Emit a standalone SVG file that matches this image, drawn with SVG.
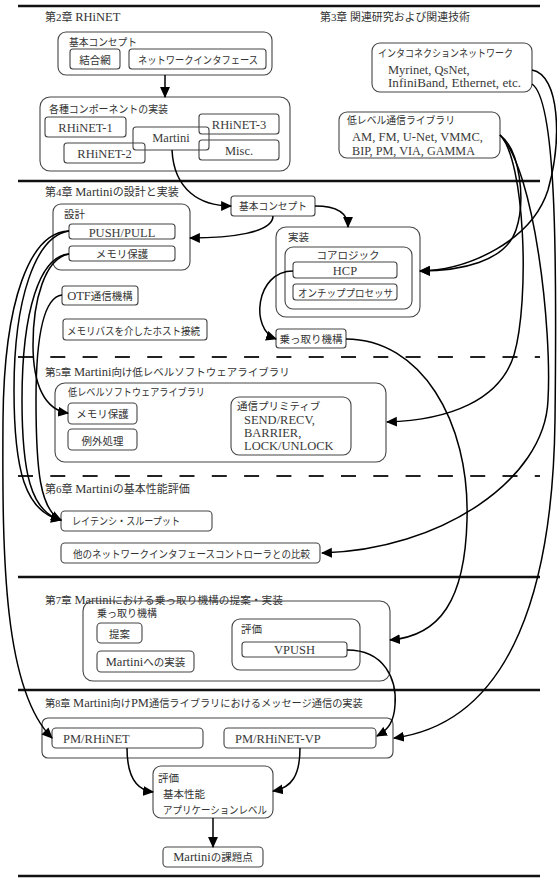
<svg xmlns="http://www.w3.org/2000/svg" width="557" height="881" viewBox="0 0 557 881">
  <style>
    text { font-family: "Liberation Serif", "Noto Sans CJK JP", serif; fill: #333; }
    .ch { font-size: 11px; }
    .jp { font-size: 10.5px; }
    .en { font-size: 12.5px; fill: #3a3a3a; }
    .lat { font-size: 12.5px; }
    .c { text-anchor: middle; }
    .box { fill: none; stroke: #444; stroke-width: 1.1; }
    .rule { stroke: #111; stroke-width: 2.6; }
    .dash { stroke: #222; stroke-width: 2; stroke-dasharray: 15 17.3; }
    .link { fill: none; stroke: #000; stroke-width: 1.5; marker-end: url(#ah); }
  </style>
  <defs>
    <marker id="ah" viewBox="0 0 10 10" refX="9" refY="5" markerWidth="11" markerHeight="11" markerUnits="userSpaceOnUse" orient="auto">
      <path d="M0,0.5 L10,5 L0,9.5 z" fill="#000"/>
    </marker>
  </defs>
  <rect width="557" height="881" fill="#fff"/>

  <!-- chapter separators -->
  <g id="rules">
    <line class="rule" x1="18" y1="6" x2="540" y2="6"/>
    <line class="rule" x1="18" y1="181" x2="540" y2="181"/>
    <line class="dash" x1="18" y1="357" x2="540" y2="357"/>
    <line class="dash" x1="18" y1="476" x2="540" y2="476"/>
    <line class="rule" x1="18" y1="577" x2="540" y2="577"/>
    <line class="rule" x1="18" y1="690" x2="540" y2="690"/>
    <line class="rule" x1="18" y1="876" x2="540" y2="876" stroke-width="3"/>
  </g>

  <!-- chapter titles -->
  <g id="titles">
    <text class="ch" x="45" y="21">第2章 <tspan class="lat">RHiNET</tspan></text>
    <text class="ch" x="320" y="21" textLength="150" lengthAdjust="spacingAndGlyphs">第3章 関連研究および関連技術</text>
    <text class="ch" x="45" y="196">第4章 <tspan class="lat">Martini</tspan>の設計と実装</text>
    <text class="ch" x="45" y="376" style="font-size:10.5px">第5章 <tspan class="lat">Martini</tspan>向け低レベルソフトウェアライブラリ</text>
    <text class="ch" x="45" y="493">第6章 <tspan class="lat">Martini</tspan>の基本性能評価</text>
    <text class="ch" x="45" y="604" style="font-size:10.7px">第7章 <tspan class="lat">Martini</tspan>における乗っ取り機構の提案・実装</text>
    <text class="ch" x="45" y="707" style="font-size:10.2px">第8章 <tspan class="lat">Martini</tspan>向け<tspan class="lat">PM</tspan>通信ライブラリにおけるメッセージ通信の実装</text>
  </g>

  <!-- chapter 2 -->
  <g id="rhinet-concept">
    <rect class="box" x="58" y="32" width="214" height="43" rx="8"/>
    <text class="jp" x="69" y="46" textLength="68" lengthAdjust="spacingAndGlyphs">基本コンセプト</text>
  </g>
  <g id="interconnect">
    <rect class="box" x="70" y="49" width="50" height="20" rx="3"/>
    <text class="jp c" x="95" y="64">結合網</text>
  </g>
  <g id="network-interface">
    <rect class="box" x="129" y="49" width="137" height="20" rx="3"/>
    <text class="jp" x="138" y="64" textLength="120" lengthAdjust="spacingAndGlyphs">ネットワークインタフェース</text>
  </g>
  <g id="components">
    <rect class="box" x="40" y="97" width="250" height="74" rx="10"/>
    <text class="jp" x="49" y="113" textLength="119" lengthAdjust="spacingAndGlyphs">各種コンポーネントの実装</text>
  </g>
  <g id="rhinet-1">
    <rect class="box" x="45" y="117" width="81" height="20" rx="3"/>
    <text class="en c" x="85.5" y="132">RHiNET-1</text>
  </g>
  <g id="rhinet-2">
    <rect class="box" x="64" y="143" width="81" height="20" rx="3"/>
    <text class="en c" x="104.5" y="158">RHiNET-2</text>
  </g>
  <g id="rhinet-3">
    <rect class="box" x="199" y="114" width="80" height="20" rx="3"/>
    <text class="en c" x="239" y="129">RHiNET-3</text>
  </g>
  <g id="misc">
    <rect class="box" x="199" y="140" width="80" height="20" rx="3"/>
    <text class="en c" x="239" y="155">Misc.</text>
  </g>
  <g id="martini">
    <rect class="box" x="133" y="127" width="76" height="23" rx="3"/>
    <text class="en c" x="171" y="142">Martini</text>
  </g>

  <!-- chapter 3 -->
  <g id="networks">
    <rect class="box" x="372" y="43" width="160" height="49" rx="8"/>
    <text class="jp" x="378" y="57" textLength="135" lengthAdjust="spacingAndGlyphs">インタコネクションネットワーク</text>
    <text class="en" x="388" y="74">Myrinet, QsNet,</text>
    <text class="en" x="388" y="87" textLength="133" lengthAdjust="spacingAndGlyphs">InfiniBand, Ethernet, etc.</text>
  </g>
  <g id="comm-libs">
    <rect class="box" x="339" y="112" width="161" height="46" rx="8"/>
    <text class="jp" x="347" y="124" textLength="108" lengthAdjust="spacingAndGlyphs">低レベル通信ライブラリ</text>
    <text class="en" x="352" y="141" textLength="131" lengthAdjust="spacingAndGlyphs">AM, FM, U-Net, VMMC,</text>
    <text class="en" x="352" y="155" textLength="123" lengthAdjust="spacingAndGlyphs">BIP, PM, VIA, GAMMA</text>
  </g>

  <!-- chapter 4 -->
  <g id="martini-concept">
    <rect class="box" x="231" y="196" width="84" height="20" rx="3"/>
    <text class="jp c" x="273" y="210" textLength="68" lengthAdjust="spacingAndGlyphs">基本コンセプト</text>
  </g>
  <g id="design">
    <rect class="box" x="53" y="204" width="137" height="66" rx="8"/>
    <text class="jp" x="64" y="218">設計</text>
  </g>
  <g id="push-pull">
    <rect class="box" x="69" y="224" width="106" height="15" rx="3"/>
    <text class="en c" x="122" y="236.5">PUSH/PULL</text>
  </g>
  <g id="mem-protect-design">
    <rect class="box" x="69" y="246" width="106" height="15" rx="3"/>
    <text class="jp c" x="122" y="258">メモリ保護</text>
  </g>
  <g id="otf">
    <rect class="box" x="62" y="286" width="76" height="19" rx="3"/>
    <text class="jp c" x="100" y="300"><tspan class="lat">OTF</tspan>通信機構</text>
  </g>
  <g id="host-link">
    <rect class="box" x="63" y="319" width="144" height="21" rx="3"/>
    <text class="jp" x="67" y="335" textLength="133" lengthAdjust="spacingAndGlyphs">メモリバスを介したホスト接続</text>
  </g>
  <g id="impl">
    <rect class="box" x="276" y="227" width="144" height="90" rx="10"/>
    <text class="jp" x="288" y="241">実装</text>
  </g>
  <g id="core-logic">
    <rect class="box" x="285" y="247" width="127" height="62" rx="8"/>
    <text class="jp c" x="348" y="259">コアロジック</text>
  </g>
  <g id="hcp">
    <rect class="box" x="293" y="262" width="104" height="16" rx="3"/>
    <text class="en c" x="345" y="275">HCP</text>
  </g>
  <g id="onchip">
    <rect class="box" x="293" y="284" width="104" height="16" rx="3"/>
    <text class="jp" x="298" y="297" textLength="95" lengthAdjust="spacingAndGlyphs">オンチッププロセッサ</text>
  </g>
  <g id="takeover">
    <rect class="box" x="276" y="329" width="70" height="19" rx="3"/>
    <text class="jp c" x="311" y="343">乗っ取り機構</text>
  </g>

  <!-- chapter 5 -->
  <g id="sw-lib">
    <rect class="box" x="55" y="383" width="331" height="79" rx="10"/>
    <text class="jp" x="68" y="396" textLength="137" lengthAdjust="spacingAndGlyphs">低レベルソフトウェアライブラリ</text>
  </g>
  <g id="mem-protect-lib">
    <rect class="box" x="68" y="403" width="69" height="21" rx="4"/>
    <text class="jp c" x="102.5" y="418">メモリ保護</text>
  </g>
  <g id="exceptions">
    <rect class="box" x="68" y="429" width="69" height="21" rx="4"/>
    <text class="jp c" x="102.5" y="445">例外処理</text>
  </g>
  <g id="primitives">
    <rect class="box" x="231" y="397" width="120" height="58" rx="8"/>
    <text class="jp" x="237" y="410">通信プリミティブ</text>
    <text class="en" x="244" y="424">SEND/RECV,</text>
    <text class="en" x="244" y="437">BARRIER,</text>
    <text class="en" x="244" y="450">LOCK/UNLOCK</text>
  </g>

  <!-- chapter 6 -->
  <g id="latency">
    <rect class="box" x="61" y="511" width="151" height="20" rx="4"/>
    <text class="jp" x="72" y="525" textLength="108" lengthAdjust="spacingAndGlyphs">レイテンシ・スループット</text>
  </g>
  <g id="comparison">
    <rect class="box" x="61" y="543" width="259" height="20" rx="4"/>
    <text class="jp" x="73" y="558" textLength="237" lengthAdjust="spacingAndGlyphs">他のネットワークインタフェースコントローラとの比較</text>
  </g>

  <!-- chapter 7 -->
  <g id="takeover-study">
    <rect class="box" x="83" y="601" width="307" height="80" rx="10"/>
    <text class="jp" x="97" y="617" textLength="60" lengthAdjust="spacingAndGlyphs">乗っ取り機構</text>
  </g>
  <g id="proposal">
    <rect class="box" x="97" y="623" width="45" height="20" rx="4"/>
    <text class="jp c" x="119.5" y="638">提案</text>
  </g>
  <g id="martini-impl">
    <rect class="box" x="97" y="651" width="97" height="21" rx="4"/>
    <text class="jp c" x="145.5" y="666"><tspan class="lat">Martini</tspan>への実装</text>
  </g>
  <g id="takeover-eval">
    <rect class="box" x="232" y="619" width="128" height="51" rx="8"/>
    <text class="jp" x="241" y="633">評価</text>
  </g>
  <g id="vpush">
    <rect class="box" x="242" y="642" width="105" height="15" rx="3"/>
    <text class="en c" x="294.5" y="654">VPUSH</text>
  </g>

  <!-- chapter 8 -->
  <g id="pm-libs">
    <rect class="box" x="42" y="718" width="351" height="40" rx="6"/>
  </g>
  <g id="pm-rhinet">
    <rect class="box" x="52" y="728" width="151" height="20" rx="4"/>
    <text class="en" x="63" y="743">PM/RHiNET</text>
  </g>
  <g id="pm-rhinet-vp">
    <rect class="box" x="224" y="728" width="152" height="20" rx="4"/>
    <text class="en" x="235" y="743">PM/RHiNET-VP</text>
  </g>
  <g id="pm-eval">
    <rect class="box" x="153" y="766" width="120" height="52" rx="8"/>
    <text class="jp" x="158" y="782">評価</text>
    <text class="jp" x="163" y="798">基本性能</text>
    <text class="jp" x="163" y="814" textLength="104" lengthAdjust="spacingAndGlyphs">アプリケーションレベル</text>
  </g>
  <g id="issues">
    <rect class="box" x="163" y="847" width="100" height="20" rx="4"/>
    <text class="jp c" x="213" y="861"><tspan class="lat">Martini</tspan>の課題点</text>
  </g>

  <!-- connectors -->
  <g id="connectors">
    <path class="link" d="M165,75 L165,97"/>
    <path class="link" d="M172,150 C174,190 200,206 231,206"/>
    <path class="link" d="M315,206 C336,206 348,212 348,227"/>
    <path class="link" d="M273,216 C273,233 230,238 190,238"/>
    <path class="link" d="M293,271 C255,271 250,330 276,339"/>
    <path class="link" d="M346,339 C420,339 470,420 467,520 C465,600 440,636 390,640"/>
    <path class="link" d="M532,70 C560,75 562,140 548,190 C532,240 470,270 420,271"/>
    <path class="link" d="M532,84 C556,100 557,250 555,420 C553,580 515,722 394,738"/>
    <path class="link" d="M500,135 C520,150 526,200 516,230 C505,262 460,271 420,271"/>
    <path class="link" d="M500,135 C525,160 530,300 514,355 C500,400 450,420 387,422"/>
    <path class="link" d="M500,135 C535,170 552,330 548,400 C545,480 440,550 322,553"/>
    <path class="link" d="M347,650 C385,650 397,680 395,705 C394,722 388,730 377,736"/>
    <path class="link" d="M69,231 C30,232 4,300 3,420 C2,560 4,690 52,738"/>
    <path class="link" d="M69,231 C35,236 14,300 14,390 C14,470 25,512 61,520"/>
    <path class="link" d="M69,254 C40,256 22,310 22,400 C22,470 30,512 61,520"/>
    <path class="link" d="M69,254 C45,258 33,300 33,345 C33,385 45,410 68,413"/>
    <path class="link" d="M62,295 C45,297 36,330 36,400 C36,470 40,510 61,520"/>
    <path class="link" d="M127,748 C127,775 135,790 153,792"/>
    <path class="link" d="M300,748 C300,775 292,788 273,791"/>
    <path class="link" d="M213,818 L213,847"/>
  </g>
</svg>
